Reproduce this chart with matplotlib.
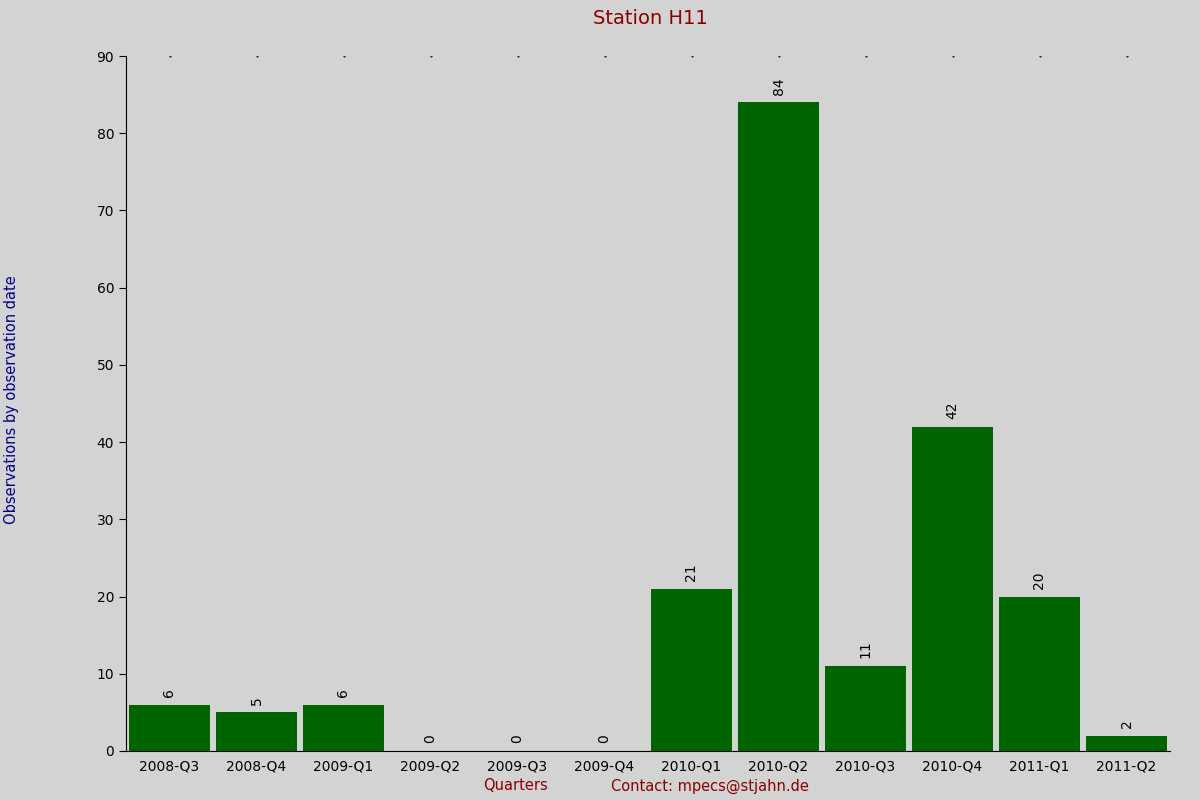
import matplotlib
matplotlib.use("Agg")
import matplotlib.pyplot as plt

categories = ["2008-Q3","2008-Q4","2009-Q1","2009-Q2","2009-Q3","2009-Q4",
              "2010-Q1","2010-Q2","2010-Q3","2010-Q4","2011-Q1","2011-Q2"]
values = [6,5,6,0,0,0,21,84,11,42,20,2]

bg = "#d3d3d3"
fig = plt.figure(figsize=(12,8), dpi=100, facecolor=bg)
ax = fig.add_axes([0.105, 0.06125, 0.87, 0.86875], facecolor=bg)
x = list(range(len(categories)))
ax.bar(x, values, width=0.92, color="#006400")
for xi, v in zip(x, values):
    ax.text(xi, v + 1, str(v), rotation=90, ha="center", va="bottom", fontsize=10, color="black")
    ax.plot(xi, 90, marker=".", markersize=1, color="black")
ax.set_xlim(-0.5, len(categories) - 0.5)
ax.set_ylim(0, 90)
ax.set_yticks(range(0, 91, 10))
ax.set_xticks(x)
ax.set_xticklabels(categories, fontsize=10)
ax.tick_params(axis="y", labelsize=10, direction="out", length=5)
ax.tick_params(axis="x", length=0, pad=6)
for s in ["top", "right"]:
    ax.spines[s].set_visible(False)
fig.text(0.5417, 0.977, "Station H11", ha="center", va="center", fontsize=14, color="#8b0000")
fig.text(0.43, 0.0175, "Quarters", ha="center", va="center", fontsize=10.5, color="#8b0000")
fig.text(0.592, 0.0175, "Contact: mpecs@stjahn.de", ha="center", va="center", fontsize=10.5, color="#8b0000")
fig.text(0.01, 0.5, "Observations by observation date", rotation=90, ha="center", va="center",
         fontsize=10.5, color="#00008b")
fig.savefig("out.png", dpi=100, facecolor=bg)
